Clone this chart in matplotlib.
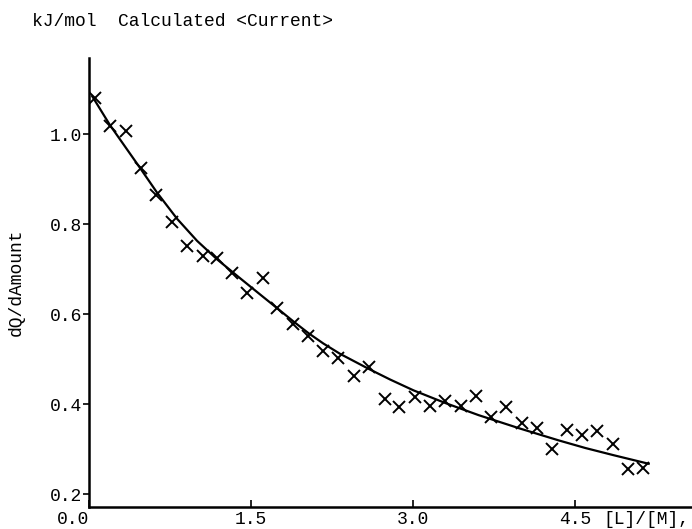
#!/usr/bin/env python3
"""
dQ/dAmount titration plot, calculated curve over measured points
"""
import matplotlib
matplotlib.use('Agg')
import matplotlib.pyplot as plt

# measured injections
ratio = [0.056, 0.194, 0.343, 0.481, 0.620, 0.769, 0.907, 1.056, 1.185, 1.324,
         1.463, 1.611, 1.741, 1.889, 2.028, 2.167, 2.306, 2.454, 2.593, 2.741,
         2.870, 3.019, 3.157, 3.296, 3.444, 3.583, 3.722, 3.861, 4.009, 4.148,
         4.287, 4.426, 4.565, 4.704, 4.852, 4.991, 5.130]
heat = [1.080, 1.018, 1.007, 0.924, 0.864, 0.804, 0.751, 0.729, 0.724, 0.691,
        0.647, 0.680, 0.613, 0.578, 0.551, 0.518, 0.502, 0.462, 0.482, 0.411,
        0.393, 0.416, 0.396, 0.407, 0.396, 0.418, 0.371, 0.393, 0.358, 0.347,
        0.300, 0.342, 0.331, 0.340, 0.311, 0.256, 0.258]

# calculated curve
fit_ratio = [0.03, 0.194, 0.472, 0.63, 0.815, 1.0, 1.185, 1.398, 1.583, 1.738,
             1.892, 2.031, 2.169, 2.324, 2.586, 2.787, 3.003, 3.296, 3.605,
             3.991, 4.345, 4.593, 4.855, 5.179]
fit_heat = [1.084, 1.020, 0.925, 0.870, 0.812, 0.763, 0.722, 0.680, 0.644, 0.614,
            0.584, 0.558, 0.535, 0.512, 0.479, 0.455, 0.431, 0.403, 0.376,
            0.346, 0.320, 0.303, 0.287, 0.268]

x_ticks = [0.0, 1.5, 3.0, 4.5]
x_ticklabels = ['0.0', '1.5', '3.0', '4.5']
y_ticks = [0.2, 0.4, 0.6, 0.8, 1.0]
y_ticklabels = ['0.2', '0.4', '0.6', '0.8', '1.0']


def main():
  plt.rcParams['font.family'] = ['Liberation Mono', 'DejaVu Sans Mono']
  plt.rcParams['font.size'] = 13

  fig = plt.figure(figsize=(6.92, 5.29), dpi=100)
  ax = fig.add_axes([89 / 692, 22 / 529, 1 - 89 / 692, (507 - 58) / 529])

  ax.plot(fit_ratio, fit_heat, color='black', lw=1.6)
  ax.plot(ratio, heat, linestyle='none', marker='x', color='black',
          markersize=8, markeredgewidth=1.4)

  ax.set_xlim(0, 5.58)
  ax.set_ylim(0.172, 1.169)
  for side in ('top', 'right'):
    ax.spines[side].set_visible(False)
  for side in ('left', 'bottom'):
    ax.spines[side].set_linewidth(1.8)

  ax.set_xticks(x_ticks)
  ax.set_xticklabels(x_ticklabels)
  ax.xaxis.get_ticklabels()[0].set_horizontalalignment('right')
  ax.tick_params(axis='x', direction='in', length=5, width=1.2, pad=3)
  ax.set_yticks(y_ticks)
  ax.set_yticklabels(y_ticklabels)
  ax.tick_params(axis='y', direction='out', length=4, width=1.2, pad=1)

  ax.set_ylabel('dQ/dAmount')
  ax.yaxis.set_label_coords(-64 / 603, 0.5)
  fig.text(603 / 692, 1 - 519 / 529, '[L]/[M],', ha='left', va='center')
  fig.text(32 / 692, 1 - 22 / 529, 'kJ/mol  Calculated <Current>',
           ha='left', va='center')

  fig.savefig('out.png', dpi=100)


if __name__ == '__main__':
  main()
